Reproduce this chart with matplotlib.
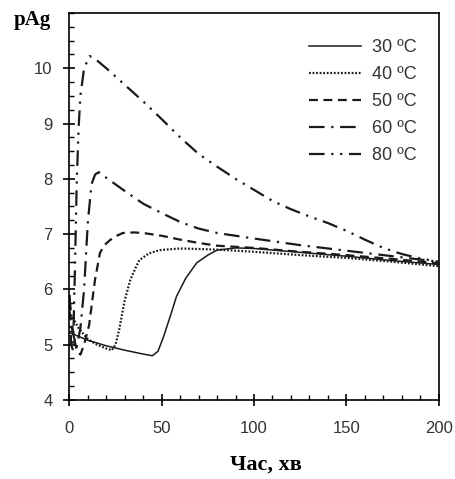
import matplotlib
matplotlib.use("Agg")
import matplotlib.pyplot as plt
from matplotlib.ticker import MultipleLocator

# pAg vs time (min) for five temperatures
t30 = [0, 10, 20, 30, 40, 45, 48, 51, 55, 58, 63, 69, 75, 80, 90, 100, 125, 150, 175, 200]
p30 = [5.22, 5.08, 4.98, 4.9, 4.83, 4.80, 4.88, 5.14, 5.55, 5.87, 6.2, 6.48, 6.62, 6.71, 6.75, 6.74, 6.67, 6.6, 6.52, 6.45]

t40 = [0, 5, 10, 15, 20, 23, 25, 27, 30, 33, 36, 38, 43, 49, 60, 80, 100, 125, 150, 175, 200]
p40 = [5.6, 5.3, 5.1, 5.0, 4.93, 4.9, 5.0, 5.27, 5.8, 6.17, 6.4, 6.53, 6.65, 6.71, 6.74, 6.72, 6.68, 6.62, 6.57, 6.5, 6.42]

t50 = [0, 2, 4, 6, 8, 10.7, 13.9, 16.6, 19, 22, 25, 29, 35, 40, 50, 60, 70, 80, 100, 125, 150, 175, 200]
p50 = [5.6, 5.2, 4.9, 4.82, 5.0, 5.35, 6.17, 6.66, 6.8, 6.89, 6.96, 7.02, 7.03, 7.02, 6.97, 6.9, 6.84, 6.79, 6.75, 6.68, 6.62, 6.55, 6.47]

t60 = [0, 2, 4, 6, 8, 10, 12, 14, 16, 20, 25, 30, 40, 50, 60, 70, 80, 100, 125, 150, 175, 200]
p60 = [5.9, 5.2, 4.95, 5.3, 6.0, 7.2, 7.9, 8.08, 8.12, 8.02, 7.9, 7.78, 7.55, 7.38, 7.22, 7.1, 7.02, 6.92, 6.8, 6.7, 6.6, 6.5]

t80 = [0, 1, 2, 3, 4, 5, 6, 8, 11, 14, 20, 25, 30, 40, 50, 60, 70, 80, 90, 100, 110, 120, 130,
       140, 150, 160, 170, 180, 190, 200]
p80 = [5.9, 5.0, 4.9, 6.3, 7.9, 8.9, 9.5, 10.0, 10.22, 10.17, 10.0, 9.85, 9.7, 9.4, 9.08, 8.75,
       8.45, 8.22, 8.0, 7.8, 7.6, 7.45, 7.32, 7.2, 7.06, 6.9, 6.75, 6.64, 6.56, 6.5]

labels = ["30 ºC", "40 ºC", "50 ºC", "60 ºC", "80 ºC"]

fig = plt.figure(figsize=(4.56, 4.79), dpi=100)
ax = fig.add_axes([0.152, 0.165, 0.81, 0.808])

c = "#1a1a1a"
ax.plot(t30, p30, color=c, linewidth=1.1, linestyle="-", label=labels[0])
ax.plot(t40, p40, color=c, linewidth=1.6, linestyle=(0, (0.8, 0.8)), label=labels[1])
ax.plot(t50, p50, color=c, linewidth=1.6, linestyle=(0, (4, 2.5)), label=labels[2])
ax.plot(t60, p60, color=c, linewidth=1.6, linestyle=(0, (7, 3, 1, 3)), label=labels[3])
ax.plot(t80, p80, color=c, linewidth=1.6, linestyle=(0, (7, 3, 1, 3, 1, 3)), label=labels[4])

ax.set_xlim(0, 200)
ax.set_ylim(4, 11)
ax.xaxis.set_major_locator(MultipleLocator(50))
ax.xaxis.set_minor_locator(MultipleLocator(10))
ax.yaxis.set_minor_locator(MultipleLocator(0.25))
# no label at the top (11)
ax.set_yticks([4, 5, 6, 7, 8, 9, 10])

for spine in ax.spines.values():
    spine.set_linewidth(1.2)
    spine.set_color("black")

ax.tick_params(which="major", direction="inout", length=8, width=1.2, labelsize=12,
               labelcolor="#333333", labelfontfamily="Liberation Sans")
ax.tick_params(axis="y", which="major", pad=8)
ax.tick_params(axis="x", which="major", pad=11)
ax.tick_params(which="minor", direction="in", length=3.5, width=1.0)

leg = ax.legend(loc="upper right", frameon=False, handlelength=2.9,
                labelspacing=0.56, handletextpad=0.6, bbox_to_anchor=(0.985, 0.975),
                prop={"family": "Liberation Sans", "size": 13})
for txt in leg.get_texts():
    txt.set_color("#333333")

fig.text(0.072, 0.958, "pAg", family="Liberation Serif", weight="bold", fontsize=15,
         ha="center", va="center")
fig.text(0.583, 0.031, "Час, хв", family="Liberation Serif", weight="bold", fontsize=16,
         ha="center", va="center")

fig.savefig("out.png", dpi=100)
